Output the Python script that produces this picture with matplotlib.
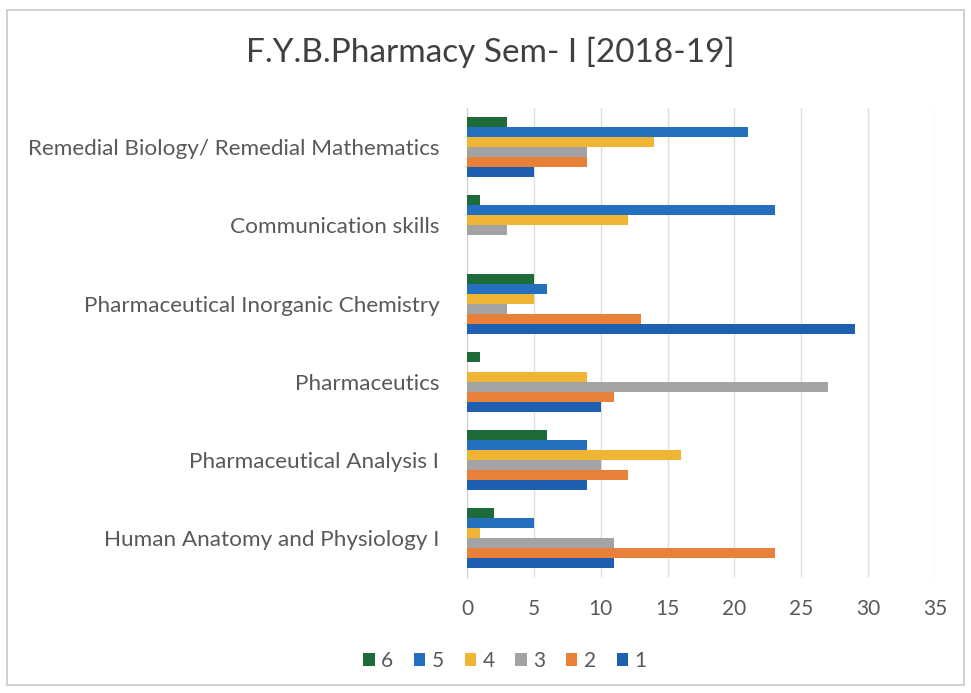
import numpy as np
import matplotlib
matplotlib.use('Agg')
import matplotlib.pyplot as plt
from matplotlib.patches import Rectangle

plt.rcParams['font.family'] = ['Lato', 'DejaVu Sans']

subjects = ['Human Anatomy and Physiology I', 'Pharmaceutical Analysis I', 'Pharmaceutics',
            'Pharmaceutical Inorganic Chemistry', 'Communication skills',
            'Remedial Biology/ Remedial Mathematics']
series_names = ['1', '2', '3', '4', '5', '6']
s1 = [11, 9, 10, 29, 0, 5]
s2 = [23, 12, 11, 13, 0, 9]
s3 = [11, 10, 27, 3, 3, 9]
s4 = [1, 16, 9, 5, 12, 14]
s5 = [5, 9, 0, 6, 23, 21]
s6 = [2, 6, 1, 5, 1, 3]
values = [s1, s2, s3, s4, s5, s6]
colors = ['#1F5FB0', '#E8803A', '#A3A3A3', '#F0B534', '#2470BE', '#1E6B3A']

fig = plt.figure(figsize=(9.71, 6.93), dpi=100)
ax = fig.add_axes([0.481, 0.167, 0.482, 0.677])

y = np.arange(len(subjects))
h = 0.128
for i, (vals, name, col) in enumerate(zip(values, series_names, colors)):
    ax.barh(y + (i - 2.5) * h, vals, height=h, color=col, label=name, zorder=3)

ax.set_xlim(0, 35)
ax.set_xticks(range(0, 36, 5))
ax.set_ylim(-0.5, len(subjects) - 0.5)
ax.set_yticks(y)
ax.set_yticklabels(subjects, fontsize=16.2)
ax.grid(axis='x', color='#DEDEDE', linewidth=1, zorder=0)
for s in ['top', 'right', 'bottom']:
    ax.spines[s].set_visible(False)
ax.spines['left'].set_color('#D0D0D0')
ax.tick_params(axis='both', length=0, colors='#595959')
ax.tick_params(axis='x', labelsize=15, pad=16)
ax.tick_params(axis='y', pad=20)

fig.text(0.505, 0.925, 'F.Y.B.Pharmacy Sem- I [2018-19]', ha='center', va='center',
         fontsize=24, color='#404040')

handles, labels = ax.get_legend_handles_labels()
fig.legend(handles[::-1], labels[::-1], loc='center', bbox_to_anchor=(0.52, 0.046),
           ncol=6, frameon=False, fontsize=15, handlelength=0.55, handleheight=0.55,
           handletextpad=0.3, columnspacing=1.0, labelcolor='#595959')

fig.patches.append(Rectangle((0.007, 0.012), 0.986, 0.974, transform=fig.transFigure,
                             fill=False, edgecolor='#C8C8C8', linewidth=1.2))

fig.savefig('out.png', dpi=100, facecolor='white')
